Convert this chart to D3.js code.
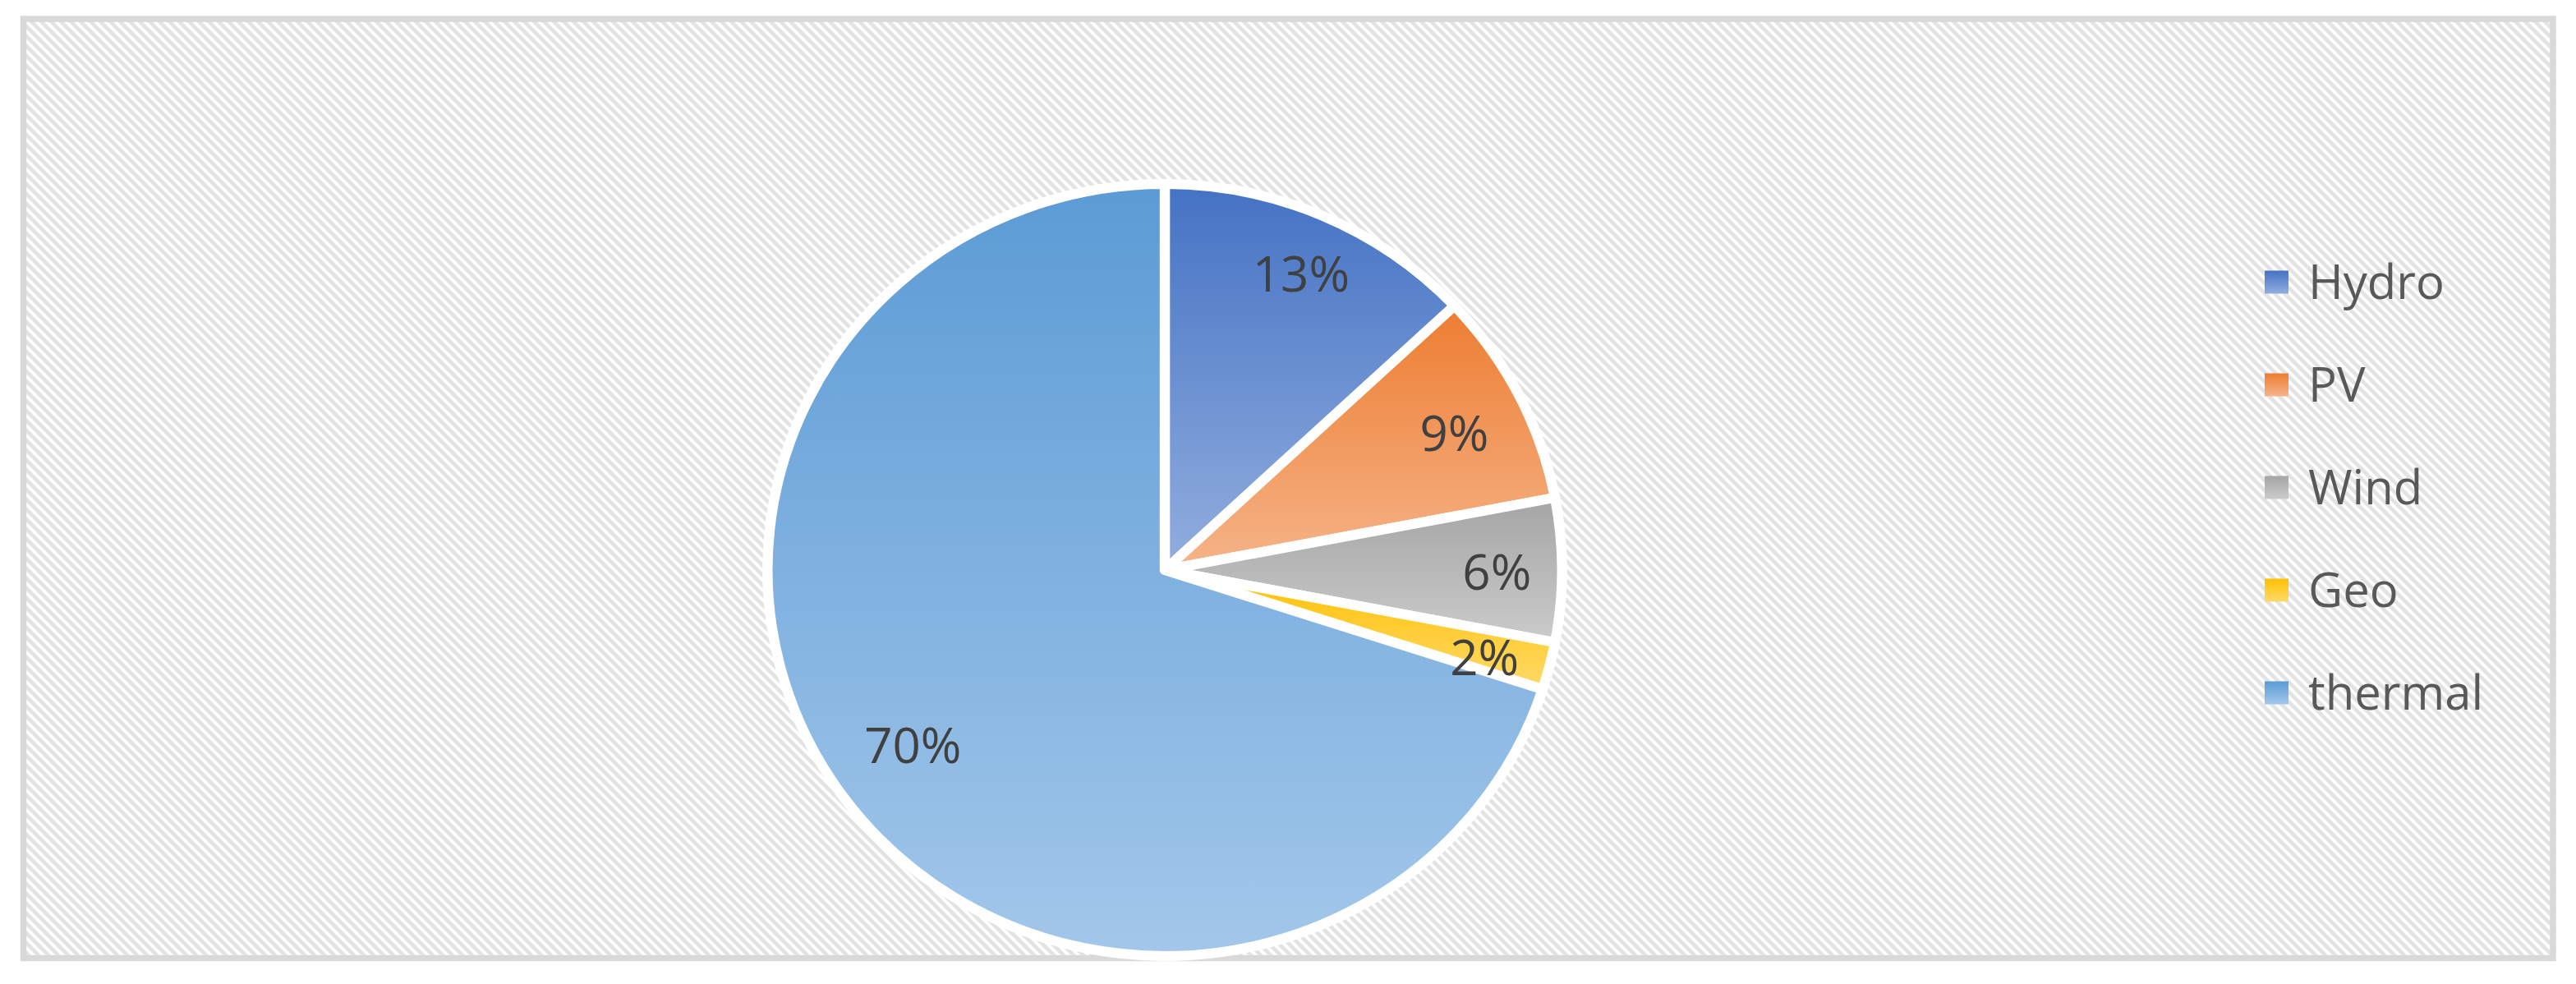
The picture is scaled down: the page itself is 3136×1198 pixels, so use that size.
<!DOCTYPE html>
<html>
<head>
<meta charset="utf-8">
<script src="https://cdn.jsdelivr.net/npm/d3@7/dist/d3.min.js"></script>
<style>
  html, body { margin: 0; padding: 0; background: #ffffff; }
  svg { display: block; }
</style>
</head>
<body>
<svg id="chart" width="3136" height="1198"></svg>
<script>
// ---- data ----
const categories = ["Hydro", "PV", "Wind", "Geo", "thermal"];
const shares = [13, 9, 6, 2, 70];
const labels = ["13%", "9%", "6%", "2%", "70%"];
const topColors = ["#4472C4", "#ED7D31", "#A5A5A5", "#FFC000", "#5B9BD5"];
const bottomColors = ["#92AEDE", "#F5B489", "#CBCBCB", "#FFDA6A", "#A3C7EA"];

// ---- layout ----
const W = 3136, H = 1198;
const cx = 1418, cy = 694, R = 470, sx = 1.029;
// label placement: [radius fraction, angle nudge in degrees]
const labelPlacement = [[0.84, 0.7], [0.81, 1.1], [0.836, 0.3], [0.836, 1.3], [0.78, 0.4]];

const svg = d3.select("#chart");
const defs = svg.append("defs");

// background hatch pattern
const P = 12;
const pat = defs.append("pattern")
  .attr("id", "hatch").attr("patternUnits", "userSpaceOnUse")
  .attr("width", P).attr("height", P);
pat.append("rect").attr("width", P).attr("height", P).attr("fill", "#ffffff");
pat.append("path")
  .attr("d", `M${-P/2},${P/2} L${P/2},${P*1.5} M0,0 L${P},${P} M${P/2},${-P/2} L${P*1.5},${P/2}`)
  .attr("stroke", "#e3e3e3").attr("stroke-width", 4.6);

// slice gradients
categories.forEach((c, i) => {
  const g = defs.append("linearGradient").attr("id", "grad" + i)
    .attr("x1", 0).attr("y1", 0).attr("x2", 0).attr("y2", 1);
  g.append("stop").attr("offset", "0%").attr("stop-color", topColors[i]);
  g.append("stop").attr("offset", "100%").attr("stop-color", bottomColors[i]);
});

// chart area with border
svg.append("rect")
  .attr("x", 28.5).attr("y", 23).attr("width", 3108 - 28.5).attr("height", 1166.5 - 23)
  .attr("fill", "url(#hatch)")
  .attr("stroke", "#d9d9d9").attr("stroke-width", 7.5);

// pie
const pie = d3.pie().sort(null).value(d => d)(shares);
const arc = d3.arc().innerRadius(0).outerRadius(R);

const gPie = svg.append("g").attr("transform", `translate(${cx},${cy}) scale(${sx},1)`);
gPie.selectAll("path.slice").data(pie).enter().append("path")
  .attr("class", "slice")
  .attr("d", arc)
  .attr("fill", (d, i) => `url(#grad${i})`)
  .attr("stroke", "#ffffff")
  .attr("stroke-width", 12)
  .attr("stroke-linejoin", "round");

// data labels
const gLab = svg.append("g").attr("transform", `translate(${cx},${cy})`);
gLab.selectAll("text").data(pie).enter().append("text")
  .attr("x", (d, i) => {
    const a = (d.startAngle + d.endAngle) / 2 + labelPlacement[i][1] * Math.PI / 180;
    return Math.sin(a) * R * labelPlacement[i][0] * sx;
  })
  .attr("y", (d, i) => {
    const a = (d.startAngle + d.endAngle) / 2 + labelPlacement[i][1] * Math.PI / 180;
    return -Math.cos(a) * R * labelPlacement[i][0];
  })
  .attr("dy", "0.36em")
  .attr("text-anchor", "middle")
  .attr("font-family", "'Open Sans', 'Noto Sans', sans-serif")
  .attr("font-size", 60)
  .attr("fill", "#404040")
  .text((d, i) => labels[i]);

// legend
const legY = d3.scalePoint().domain(categories).range([343.5, 843.5]);
const gLeg = svg.append("g");
const rows = gLeg.selectAll("g").data(categories).enter().append("g")
  .attr("transform", d => `translate(2757,${legY(d)})`);
rows.append("rect")
  .attr("x", 0).attr("y", -14).attr("width", 29).attr("height", 28)
  .attr("fill", (d, i) => `url(#grad${i})`);
rows.append("text")
  .attr("x", 53).attr("y", 0).attr("dy", "0.357em")
  .attr("font-family", "'Open Sans', 'Noto Sans', sans-serif")
  .attr("font-size", 58)
  .attr("fill", "#595959")
  .text(d => d);
</script>
</body>
</html>
